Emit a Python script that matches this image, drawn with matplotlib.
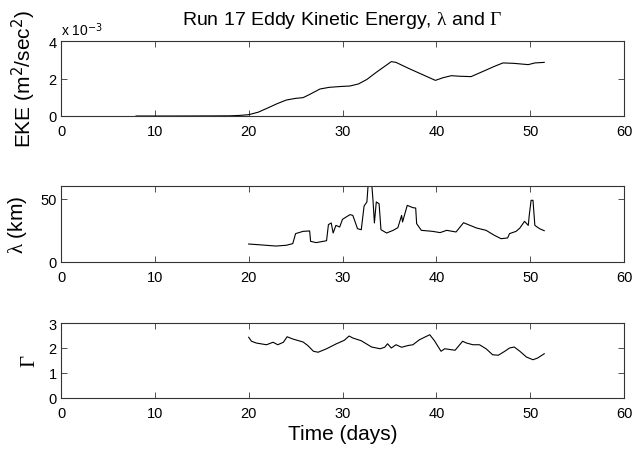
import matplotlib
matplotlib.use("Agg")
import matplotlib.pyplot as plt

plt.rcParams['font.family'] = ['Liberation Sans', 'DejaVu Sans']
plt.rcParams['mathtext.fontset'] = 'custom'
plt.rcParams['mathtext.rm'] = 'Liberation Serif'
plt.rcParams['mathtext.it'] = 'Liberation Serif:italic'

# EKE (units of 1e-3 m^2/sec^2)
eke_days = [8, 12, 16, 18, 19, 20, 21, 22, 23, 23.5, 24, 25, 25.8, 26.5, 27.6, 28.6, 30,
            30.8, 31.7, 32.6, 33.6, 34.5, 35.2, 35.7, 37, 38.2, 39.9, 40.7, 41.6, 42.5,
            43.7, 45.3, 46.2, 47.1, 48.2, 49.8, 50.5, 51.5]
eke_vals = [0, 0, 0.005, 0.01, 0.03, 0.07, 0.2, 0.42, 0.65, 0.75, 0.85, 0.94, 0.98, 1.15,
            1.44, 1.53, 1.58, 1.6, 1.71, 1.95, 2.33, 2.65, 2.9, 2.86, 2.55, 2.28, 1.9,
            2.04, 2.15, 2.12, 2.1, 2.45, 2.65, 2.83, 2.81, 2.74, 2.83, 2.86]

# lambda (km)
lam_days = [20, 21.5, 22.9, 24.0, 24.7, 25.0, 25.8, 26.5, 26.6, 27.2, 28.3, 28.5, 28.8,
            29.0, 29.3, 29.7, 30.0, 30.8, 31.1, 31.6, 32.0, 32.3, 32.6, 32.75, 33.1, 33.25,
            33.4, 33.6, 33.9, 34.1, 34.7, 35.4, 35.9, 36.3, 36.4, 36.9, 37.5, 37.8, 37.9,
            38.4, 39.6, 40.4, 41.1, 42.1, 42.9, 43.6, 44.3, 45.3, 46.2, 46.9, 47.6, 47.8,
            48.5, 48.9, 49.4, 49.8, 49.9, 50.1, 50.3, 50.5, 51.0, 51.5]
lam_vals = [14.2, 13.4, 12.6, 13.2, 14.5, 22.4, 24.2, 24.5, 16.3, 15.3, 16.8, 29.5, 30.8,
            22.9, 28.9, 27.6, 33.7, 37.4, 36.8, 26.3, 25.5, 44.2, 47.4, 63, 63, 48.7,
            30.8, 47.4, 46, 25.5, 22.9, 25, 27.1, 36.8, 31.6, 44.7, 42.9, 42.6, 30.3,
            25, 24.2, 23.2, 25, 23.7, 31, 28.9, 26.8, 25, 21, 18.4, 19, 22.4,
            24.2, 26.8, 32.1, 28.9, 36.8, 48.7, 48.7, 28.9, 26.3, 24.7]

# Gamma
gam_days = [20, 20.3, 20.8, 21.9, 22.6, 23.1, 23.7, 24.1, 24.7, 25.8, 26.3, 26.9, 27.4,
            28.3, 29.3, 30.2, 30.7, 31.1, 32.0, 33.1, 34.0, 34.5, 34.8, 35.2, 35.7, 36.3,
            37.0, 37.5, 38.2, 38.8, 39.3, 39.8, 40.5, 40.9, 42.0, 42.8, 43.2, 43.9, 44.6,
            45.3, 46.0, 46.6, 47.3, 47.8, 48.3, 48.9, 49.6, 50.3, 50.8, 51.5]
gam_vals = [2.43, 2.27, 2.2, 2.13, 2.23, 2.13, 2.23, 2.45, 2.36, 2.24, 2.1, 1.87, 1.83,
            1.97, 2.16, 2.31, 2.48, 2.4, 2.29, 2.04, 1.97, 2.03, 2.17, 2.0, 2.13, 2.03,
            2.1, 2.13, 2.33, 2.44, 2.53, 2.29, 1.87, 1.97, 1.91, 2.27, 2.2, 2.13, 2.13,
            1.97, 1.73, 1.71, 1.87, 2.0, 2.04, 1.87, 1.64, 1.53, 1.6, 1.77]

x_ticks = [0, 10, 20, 30, 40, 50, 60]

W, H = 634, 452
fig = plt.figure(figsize=(W / 100, H / 100), dpi=100)

left = 61 / W
width = 563 / W

def make_ax(top_px, bot_px):
    return fig.add_axes([left, 1 - bot_px / H, width, (bot_px - top_px) / H])

ax1 = make_ax(42, 117)
ax2 = make_ax(187, 263)
ax3 = make_ax(324, 399)

for ax in (ax1, ax2, ax3):
    ax.set_xlim(0, 60)
    ax.set_xticks(x_ticks)
    ax.tick_params(direction='in', top=True, right=True, length=4, width=0.6,
                   labelsize=10.5, color='#333333')
    ax.tick_params(axis='x', pad=6)
    ax.tick_params(axis='y', pad=3)
    for s in ax.spines.values():
        s.set_linewidth(0.8)
        s.set_color('#333333')

ax1.plot(eke_days, eke_vals, color='black', lw=0.8)
ax1.set_ylim(0, 4)
ax1.set_yticks([0, 2, 4])
ax1.set_ylabel('EKE (m$^{\\mathsf{2}}$/sec$^{\\mathsf{2}}$)', fontsize=15, labelpad=8)
ax1.text(0.0, 1.04, 'x 10$^{\\mathsf{-3}}$', transform=ax1.transAxes, fontsize=10,
         ha='left', va='bottom')
ax1.set_title('Run 17 Eddy Kinetic Energy, $\\mathrm{\\lambda}$ and $\\Gamma$',
              fontsize=14, pad=12)

ax2.plot(lam_days, lam_vals, color='black', lw=0.8)
ax2.set_ylim(0, 60)
ax2.set_yticks([0, 50])
ax2.set_ylabel('$\\mathrm{\\lambda}$ (km)', fontsize=15, labelpad=8)

ax3.plot(gam_days, gam_vals, color='black', lw=0.8)
ax3.set_ylim(0, 3)
ax3.set_yticks([0, 1, 2, 3])
ax3.set_ylabel('$\\Gamma$', fontsize=15, labelpad=7)
ax3.set_xlabel('Time (days)', fontsize=15, labelpad=3)

fig.savefig('out.png', dpi=100)
